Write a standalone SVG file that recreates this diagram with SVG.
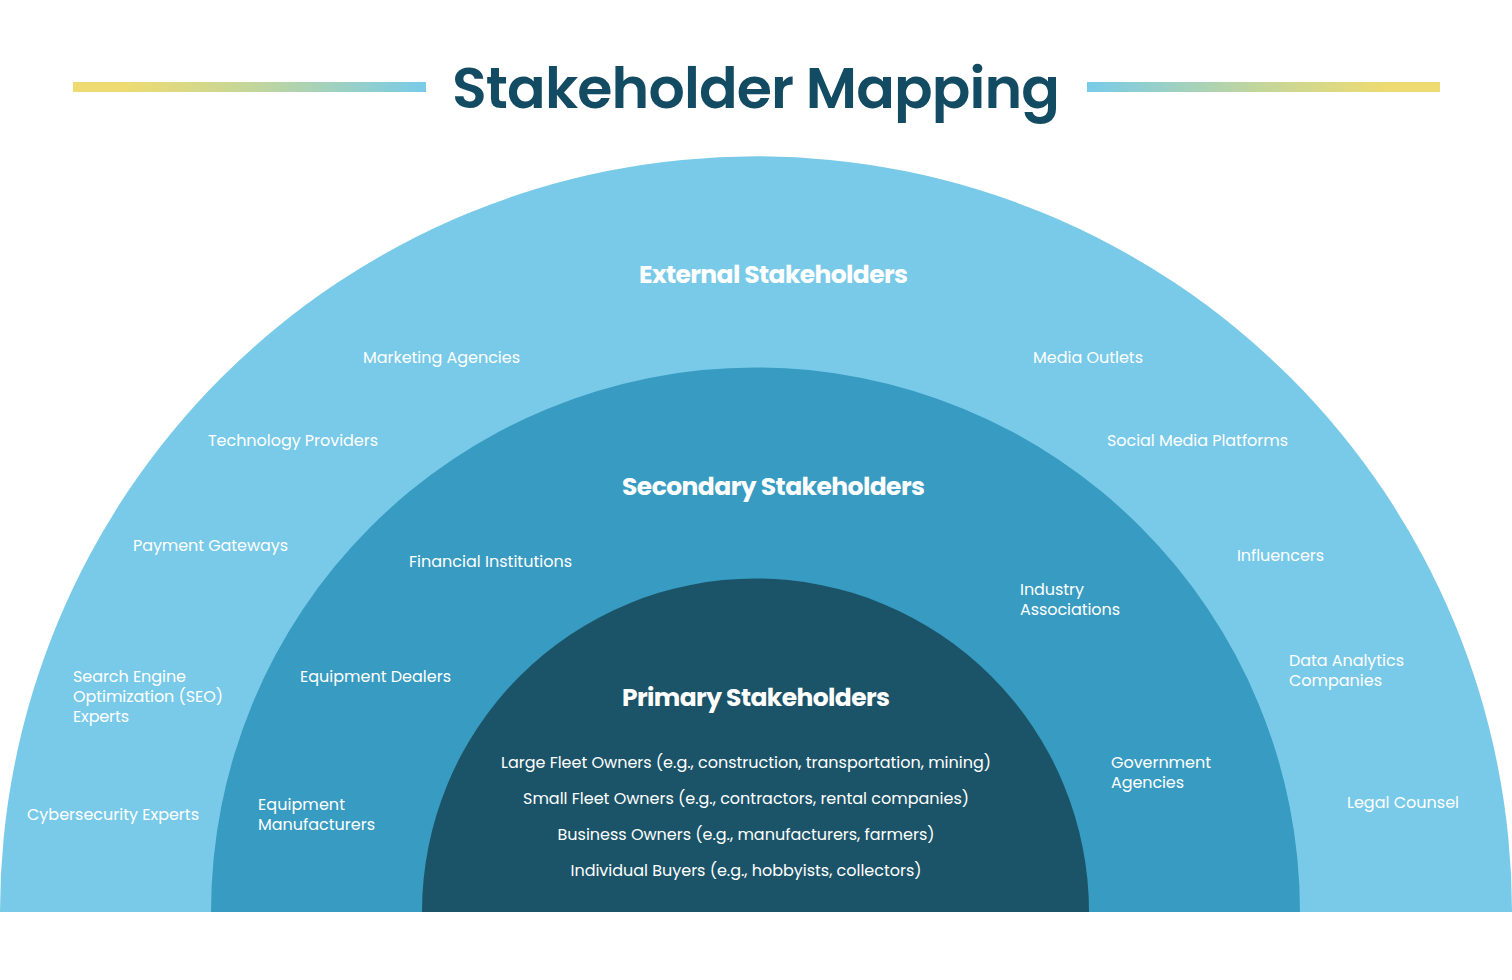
<svg xmlns="http://www.w3.org/2000/svg" width="1512" height="980" viewBox="0 0 1512 980">
  <defs>
    <linearGradient id="barL" x1="0" y1="0" x2="1" y2="0">
      <stop offset="0" stop-color="#EEDB72"/>
      <stop offset="0.15" stop-color="#EEDB72"/>
      <stop offset="0.5" stop-color="#C4D699"/>
      <stop offset="1" stop-color="#78CBE9"/>
    </linearGradient>
    <linearGradient id="barR" x1="1" y1="0" x2="0" y2="0">
      <stop offset="0" stop-color="#EEDB72"/>
      <stop offset="0.15" stop-color="#EEDB72"/>
      <stop offset="0.5" stop-color="#C4D699"/>
      <stop offset="1" stop-color="#78CBE9"/>
    </linearGradient>
    <style>
      .title { font-family: "Poppins", "Open Sans", "Noto Sans", sans-serif; font-weight: 600; font-size: 57px; fill: #134C62; }
      .head { font-family: "Poppins", "Open Sans", "Noto Sans", sans-serif; font-weight: 700; font-size: 25px; fill: #FFFFFF; }
      .lbl { font-family: "Poppins", "Open Sans", "Noto Sans", sans-serif; font-weight: 400; font-size: 16px; fill: #FFFFFF; }
      .mid { text-anchor: middle; }
    </style>
  </defs>
  <rect width="1512" height="980" fill="#FFFFFF"/>

  <g id="title">
    <rect x="73" y="82" width="353" height="10" fill="url(#barL)"/>
    <rect x="1087" y="82" width="353" height="10" fill="url(#barR)"/>
    <text class="title mid" x="756" y="108" textLength="608">Stakeholder Mapping</text>
  </g>

  <g id="external">
    <path d="M0,912 A756,756 0 0 1 1512,912 Z" fill="#78CAE8"/>
    <text class="head mid" x="773.5" y="283" textLength="269">External Stakeholders</text>
    <text class="lbl" x="363" y="363" textLength="157">Marketing Agencies</text>
    <text class="lbl" x="208" y="446" textLength="170">Technology Providers</text>
    <text class="lbl" x="133" y="551" textLength="155">Payment Gateways</text>
    <text class="lbl" x="73" y="682" textLength="113">Search Engine</text>
    <text class="lbl" x="73" y="702" textLength="150">Optimization (SEO)</text>
    <text class="lbl" x="73" y="722" textLength="56">Experts</text>
    <text class="lbl" x="27" y="820" textLength="172">Cybersecurity Experts</text>
    <text class="lbl" x="1033" y="363" textLength="110">Media Outlets</text>
    <text class="lbl" x="1107" y="446" textLength="181">Social Media Platforms</text>
    <text class="lbl" x="1237" y="561" textLength="87">Influencers</text>
    <text class="lbl" x="1289" y="666" textLength="115">Data Analytics</text>
    <text class="lbl" x="1289" y="686" textLength="93">Companies</text>
    <text class="lbl" x="1347" y="808" textLength="112">Legal Counsel</text>
  </g>

  <g id="secondary">
    <path d="M211,912 A544.5,544.5 0 0 1 1300,912 Z" fill="#389BC1"/>
    <text class="head mid" x="773.5" y="495" textLength="303">Secondary Stakeholders</text>
    <text class="lbl" x="409" y="567" textLength="163">Financial Institutions</text>
    <text class="lbl" x="300" y="682" textLength="151">Equipment Dealers</text>
    <text class="lbl" x="258" y="810" textLength="87">Equipment</text>
    <text class="lbl" x="258" y="830" textLength="117">Manufacturers</text>
    <text class="lbl" x="1020" y="595" textLength="64">Industry</text>
    <text class="lbl" x="1020" y="615" textLength="100">Associations</text>
    <text class="lbl" x="1111" y="768" textLength="100">Government</text>
    <text class="lbl" x="1111" y="788" textLength="73">Agencies</text>
  </g>

  <g id="primary">
    <path d="M422,912 A333.5,333.5 0 0 1 1089,912 Z" fill="#1B5468"/>
    <text class="head mid" x="756" y="706" textLength="268">Primary Stakeholders</text>
    <text class="lbl mid" x="746" y="768" textLength="490">Large Fleet Owners (e.g., construction, transportation, mining)</text>
    <text class="lbl mid" x="746" y="804" textLength="446">Small Fleet Owners (e.g., contractors, rental companies)</text>
    <text class="lbl mid" x="746" y="840" textLength="377">Business Owners (e.g., manufacturers, farmers)</text>
    <text class="lbl mid" x="746" y="876" textLength="351">Individual Buyers (e.g., hobbyists, collectors)</text>
  </g>

  <g id="connectors"></g>
</svg>
